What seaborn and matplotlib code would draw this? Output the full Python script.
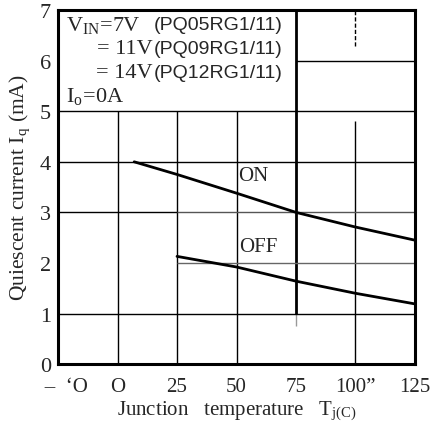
import matplotlib
matplotlib.use("Agg")
import matplotlib.pyplot as plt
import seaborn as sns
import pandas as pd

# data
temp_on = [7, 25, 50, 75, 100, 125]
iq_on = [4.0, 3.75, 3.38, 3.0, 2.71, 2.45]
temp_off = [25, 50, 75, 100, 125]
iq_off = [2.13, 1.92, 1.64, 1.40, 1.19]

x_ticks = [-25, 0, 25, 50, 75, 100, 125]
x_ticklabels = ["   \u2013  \u2018O", "O", "25", "50", "75", "100\u201d", "125"]
y_ticks = [0, 1, 2, 3, 4, 5, 6, 7]

sns.set_style("white")
plt.rcParams['font.family'] = ['Liberation Serif', 'DejaVu Serif']
plt.rcParams['mathtext.fontset'] = 'stix'

df_on = pd.DataFrame({"temp": temp_on, "iq": iq_on})
df_off = pd.DataFrame({"temp": temp_off, "iq": iq_off})

fig = plt.figure(figsize=(4.3, 4.27), dpi=100)
ax = fig.add_axes([0.135, 0.145, 0.830, 0.829])

# grid, drawn piece by piece like the scan
ax.vlines([0, 25, 50], 0, 5, color="black", lw=1.0)
ax.vlines(100, 0, 4.8, color="black", lw=1.0)
ax.vlines(100, 6.3, 7, color="black", lw=1.0, linestyles=(0, (3, 1.5)))
ax.vlines(75, 0.75, 1.0, color="#999999", lw=1.0)
ax.vlines(75, 1.0, 7, color="black", lw=2.0)
ax.hlines([1, 4, 5], -25, 125, color="black", lw=1.0)
ax.hlines(3, -25, 25, color="black", lw=1.0)
ax.hlines(3, 25, 125, color="#555555", lw=1.0)
ax.hlines(2, 25, 125, color="#666666", lw=1.0)
ax.hlines(6, 75, 125, color="black", lw=1.0)

sns.lineplot(data=df_on, x="temp", y="iq", ax=ax, color="black", lw=2.0)
sns.lineplot(data=df_off, x="temp", y="iq", ax=ax, color="black", lw=2.0)

ax.text(57, 3.72, "ON", fontsize=15, ha="center", va="center")
ax.text(59, 2.32, "OFF", fontsize=15, ha="center", va="center")

# condition box text
ax.text(-21.5, 6.72, r"V$_{\mathregular{IN}}$=7V", fontsize=16, ha="left", va="center")
ax.text(14.6, 6.24, "= 11V", fontsize=16, ha="right", va="center")
ax.text(14.6, 5.76, "= 14V", fontsize=16, ha="right", va="center")
ax.text(15.3, 6.72, "(PQ05RG1/11)", fontsize=14, ha="left", va="center",
        family="Liberation Sans")
ax.text(15.3, 6.24, "(PQ09RG1/11)", fontsize=14, ha="left", va="center",
        family="Liberation Sans")
ax.text(15.3, 5.76, "(PQ12RG1/11)", fontsize=14, ha="left", va="center",
        family="Liberation Sans")
ax.text(-21.5, 5.32, r"I$_{\mathregular{o}}$=0A", fontsize=16, ha="left", va="center")

ax.set_xlim(-25, 125)
ax.set_ylim(0, 7)
ax.set_xticks(x_ticks)
ax.set_xticklabels(x_ticklabels)
ax.set_yticks(y_ticks)
ax.tick_params(axis="both", length=0)
ax.tick_params(axis="x", pad=9, labelsize=15)
ax.tick_params(axis="y", pad=5, labelsize=16)
ax.set_xlabel(r"Junction   temperature   T$_{\mathregular{j(C)}}$", fontsize=15, labelpad=2)
ax.set_ylabel(r"Quiescent current I$_{\mathregular{q}}$ (mA)", fontsize=15.5, labelpad=6)

for s in ax.spines.values():
    s.set_visible(True)
    s.set_color("black")
    s.set_linewidth(2.2)

fig.savefig("out.png", dpi=100)
